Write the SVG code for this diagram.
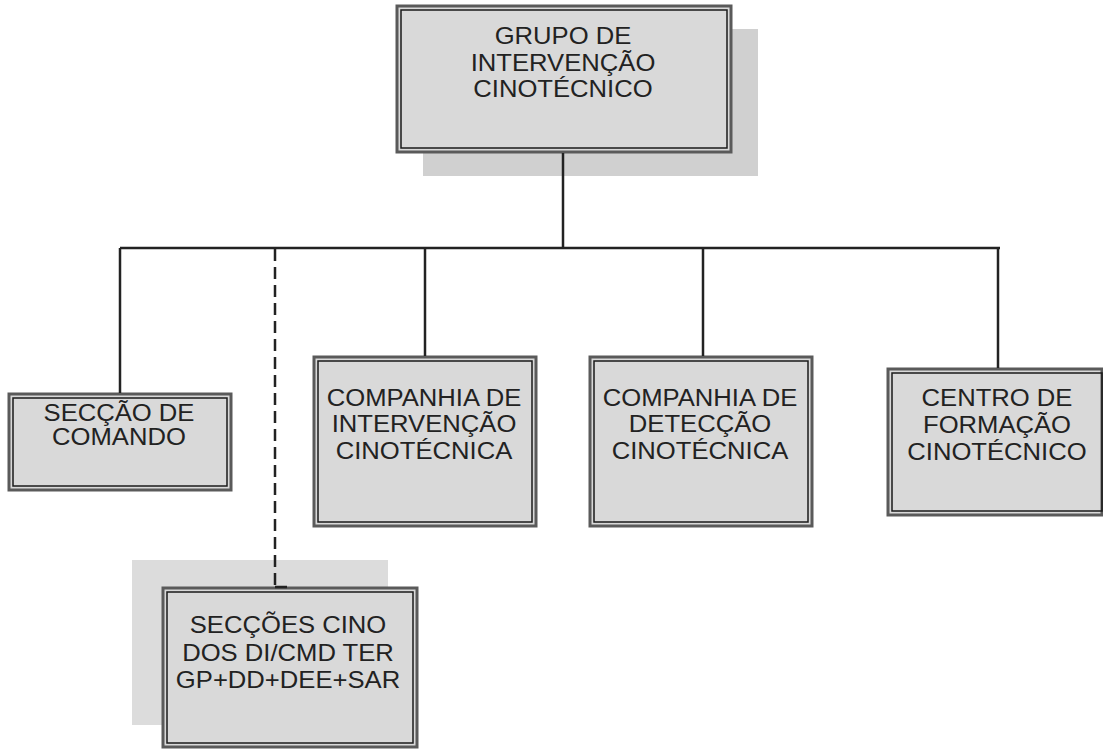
<svg xmlns="http://www.w3.org/2000/svg" width="1103" height="749" viewBox="0 0 1103 749">
<style>
.outer{fill:#d9d9d9;stroke:#5a5a5a;stroke-width:3}
.inner{fill:none;stroke:#1a1a1a;stroke-width:1.5}
.shadow{fill:#d0d0d0}
.lbl{font-family:"Liberation Sans",Arial,sans-serif;font-size:23.3px;fill:#222;text-anchor:middle}
.conn{stroke:#222;stroke-width:2.5;fill:none}
.dash{stroke:#222;stroke-width:2.5;fill:none;stroke-dasharray:12 6}
</style>
<rect width="1103" height="749" fill="#fff"/>
<g id="grupo">
<rect class="shadow" x="423" y="29" width="335" height="147"/>
<rect class="outer" x="397" y="6" width="334" height="146"/>
<rect class="inner" x="401" y="10" width="326" height="138"/>
<text class="lbl" transform="translate(563,44) scale(1.1,1)">GRUPO DE</text>
<text class="lbl" transform="translate(563,70.5) scale(1.1,1)">INTERVENÇÃO</text>
<text class="lbl" transform="translate(563,97) scale(1.1,1)">CINOTÉCNICO</text>
</g>
<g id="seccao-comando">
<rect class="outer" x="9" y="394" width="222" height="96"/>
<rect class="inner" x="13" y="398" width="214" height="88"/>
<text class="lbl" transform="translate(119,421) scale(1.1,1)">SECÇÃO DE</text>
<text class="lbl" transform="translate(119,445) scale(1.1,1)">COMANDO</text>
</g>
<g id="seccoes-cino">
<rect fill="#dcdcdc" x="132" y="560" width="256" height="165"/>
<rect class="outer" x="163" y="588" width="254" height="159"/>
<rect class="inner" x="167" y="592" width="246" height="151"/>
<text class="lbl" transform="translate(288,633) scale(1.1,1)">SECÇÕES CINO</text>
<text class="lbl" transform="translate(288,661) scale(1.1,1)">DOS DI/CMD TER</text>
<text class="lbl" transform="translate(288,688) scale(1.1,1)">GP+DD+DEE+SAR</text>
</g>
<g id="companhia-intervencao">
<rect class="outer" x="314" y="357" width="222" height="169"/>
<rect class="inner" x="318" y="361" width="214" height="161"/>
<text class="lbl" transform="translate(424,406) scale(1.1,1)">COMPANHIA DE</text>
<text class="lbl" transform="translate(424,432) scale(1.1,1)">INTERVENÇÃO</text>
<text class="lbl" transform="translate(424,459) scale(1.1,1)">CINOTÉCNICA</text>
</g>
<g id="companhia-deteccao">
<rect class="outer" x="590" y="357" width="222" height="169"/>
<rect class="inner" x="594" y="361" width="214" height="161"/>
<text class="lbl" transform="translate(700,406) scale(1.1,1)">COMPANHIA DE</text>
<text class="lbl" transform="translate(700,432) scale(1.1,1)">DETECÇÃO</text>
<text class="lbl" transform="translate(700,459) scale(1.1,1)">CINOTÉCNICA</text>
</g>
<g id="centro-formacao">
<rect class="outer" x="888" y="369" width="214" height="146"/>
<rect class="inner" x="892" y="373" width="210" height="138"/>
<text class="lbl" transform="translate(997,406) scale(1.1,1)">CENTRO DE</text>
<text class="lbl" transform="translate(997,433) scale(1.1,1)">FORMAÇÃO</text>
<text class="lbl" transform="translate(997,460) scale(1.1,1)">CINOTÉCNICO</text>
</g>
<g id="connectors">
<line class="conn" x1="563" y1="153" x2="563" y2="248"/>
<line class="conn" x1="120" y1="248" x2="1000" y2="248"/>
<line class="conn" x1="120" y1="248" x2="120" y2="393"/>
<line class="conn" x1="425" y1="248" x2="425" y2="356"/>
<line class="conn" x1="703" y1="248" x2="703" y2="356"/>
<line class="conn" x1="998" y1="248" x2="998" y2="368"/>
<line class="dash" x1="275" y1="249" x2="275" y2="587"/>
<line class="conn" x1="275" y1="587" x2="287" y2="587"/>
</g>
</svg>
